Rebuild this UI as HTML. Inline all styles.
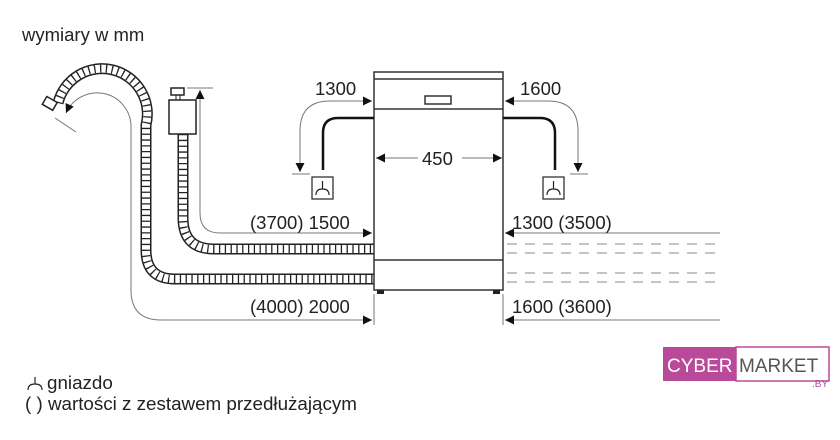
<!DOCTYPE html>
<html><head><meta charset="utf-8"><style>
html,body{margin:0;padding:0;background:#fff;width:840px;height:440px;overflow:hidden}
svg{display:block}
text{font-family:"Liberation Sans",sans-serif;fill:#222}
</style></head><body>
<svg width="840" height="440" viewBox="0 0 840 440" xmlns="http://www.w3.org/2000/svg">
<defs>
<marker id="ar" viewBox="0 0 10 10" refX="10" refY="5" markerWidth="9" markerHeight="9" orient="auto-start-reverse" markerUnits="userSpaceOnUse"><path d="M0,0 L10,5 L0,10 z" fill="#111"/></marker>
</defs>
<text x="22" y="41" font-size="18.5">wymiary w mm</text>

<g fill="none">
<path d="M58,103 A45,45 0 0 1 146,125 V250 Q146,279 175,279 H374" stroke="#222" stroke-width="11"/>
<path d="M58,103 A45,45 0 0 1 146,125 V250 Q146,279 175,279 H374" stroke="#fff" stroke-width="8"/>
<path d="M58,103 A45,45 0 0 1 146,125 V250 Q146,279 175,279 H374" stroke="#222" stroke-width="8" stroke-dasharray="1.3 4.5"/>
<path d="M183,134 V218 Q183,249 214,249 H374" stroke="#222" stroke-width="11"/>
<path d="M183,134 V218 Q183,249 214,249 H374" stroke="#fff" stroke-width="8"/>
<path d="M183,134 V218 Q183,249 214,249 H374" stroke="#222" stroke-width="8" stroke-dasharray="1.3 4.5"/>
</g>
<rect x="44" y="99" width="12" height="9" fill="#fff" stroke="#222" stroke-width="1.5" transform="rotate(30 50 103)"/>
<rect x="171" y="88" width="13" height="7" fill="#fff" stroke="#222" stroke-width="1.5"/>
<rect x="169" y="100" width="27" height="34" fill="#fff" stroke="#222" stroke-width="1.5"/>
<line x1="176" y1="95" x2="176" y2="100" stroke="#222"/><line x1="180" y1="95" x2="180" y2="100" stroke="#222"/>

<g fill="none" stroke="#333" stroke-width="1.5">
<rect x="374" y="72" width="129" height="218" fill="#fff"/>
<line x1="374" y1="79" x2="503" y2="79"/>
<line x1="374" y1="109" x2="503" y2="109"/>
<line x1="374" y1="260" x2="503" y2="260"/>
<rect x="425" y="96" width="26" height="8"/>
</g>
<rect x="377" y="290" width="7" height="4" fill="#222"/><rect x="493" y="290" width="7" height="4" fill="#222"/>

<g fill="none" stroke="#777" stroke-width="1">
<path d="M131,290 V125 A34,34 0 0 0 66,113" marker-end="url(#ar)"/>
<path d="M131,290 Q131,320 161,320 H372" marker-end="url(#ar)"/>
<line x1="55" y1="118" x2="76" y2="132"/>
<path d="M200,90 V213 Q200,233 220,233 H372" marker-start="url(#ar)" marker-end="url(#ar)"/>
<line x1="187" y1="88" x2="213" y2="88"/>
<path d="M372,101 H330 Q300,101 300,131 V172" marker-start="url(#ar)" marker-end="url(#ar)"/>
<line x1="292" y1="174" x2="310" y2="174"/>
<path d="M505,101 H548 Q578,101 578,131 V172" marker-start="url(#ar)" marker-end="url(#ar)"/>
<line x1="570" y1="174" x2="588" y2="174"/>
<path d="M505,233 H720" marker-start="url(#ar)"/>
<path d="M505,320 H720" marker-start="url(#ar)"/>
<line x1="374" y1="294" x2="374" y2="325"/>
<line x1="503" y1="294" x2="503" y2="325"/>
<path d="M376,158 H418" marker-start="url(#ar)"/>
<path d="M462,158 H502" marker-end="url(#ar)"/>
</g>
<g stroke="#888" stroke-width="1" stroke-dasharray="10 8">
<line x1="507" y1="244" x2="722" y2="244"/><line x1="507" y1="253" x2="722" y2="253"/>
<line x1="507" y1="273" x2="722" y2="273"/><line x1="507" y1="282" x2="722" y2="282"/>
</g>

<g fill="none" stroke="#111" stroke-width="2.5">
<path d="M374,118 H338 Q323,118 323,133 V170"/>
<path d="M503,118 H540 Q555,118 555,133 V170"/>
</g>
<g fill="none" stroke="#222" stroke-width="1.2">
<rect x="312" y="177" width="21" height="22"/>
<path d="M322.5,181 V189 M316,195 Q316,189 322.5,189 Q329,189 329,195"/>
<rect x="543" y="177" width="21" height="22"/>
<path d="M553.5,181 V189 M547,195 Q547,189 553.5,189 Q560,189 560,195"/>
</g>

<g font-size="18.5">
<text x="315" y="95">1300</text>
<text x="520" y="95">1600</text>
<text x="422" y="165">450</text>
<text x="250" y="229">(3700) 1500</text>
<text x="250" y="313">(4000) 2000</text>
<text x="512" y="229">1300 (3500)</text>
<text x="512" y="313">1600 (3600)</text>
</g>

<g fill="none" stroke="#222" stroke-width="1.2">
<path d="M35,377 V384 M28,390 Q28,384 35,384 Q42,384 42,390"/>
</g>
<text x="47" y="389" font-size="18.8">gniazdo</text>
<text x="25" y="410" font-size="18.8">( ) wartości z zestawem przedłużającym</text>

<rect x="663" y="347" width="73" height="34" fill="#b94a9a"/>
<rect x="736" y="347" width="93" height="34" fill="#fff" stroke="#b94a9a" stroke-width="1.5"/>
<text x="667" y="372" font-size="19" style="fill:#fff">CYBER</text>
<text x="739" y="372" font-size="19" style="fill:#555">MARKET</text>
<text x="812" y="387" font-size="10" style="fill:#b94a9a">.BY</text>
</svg>
</body></html>
